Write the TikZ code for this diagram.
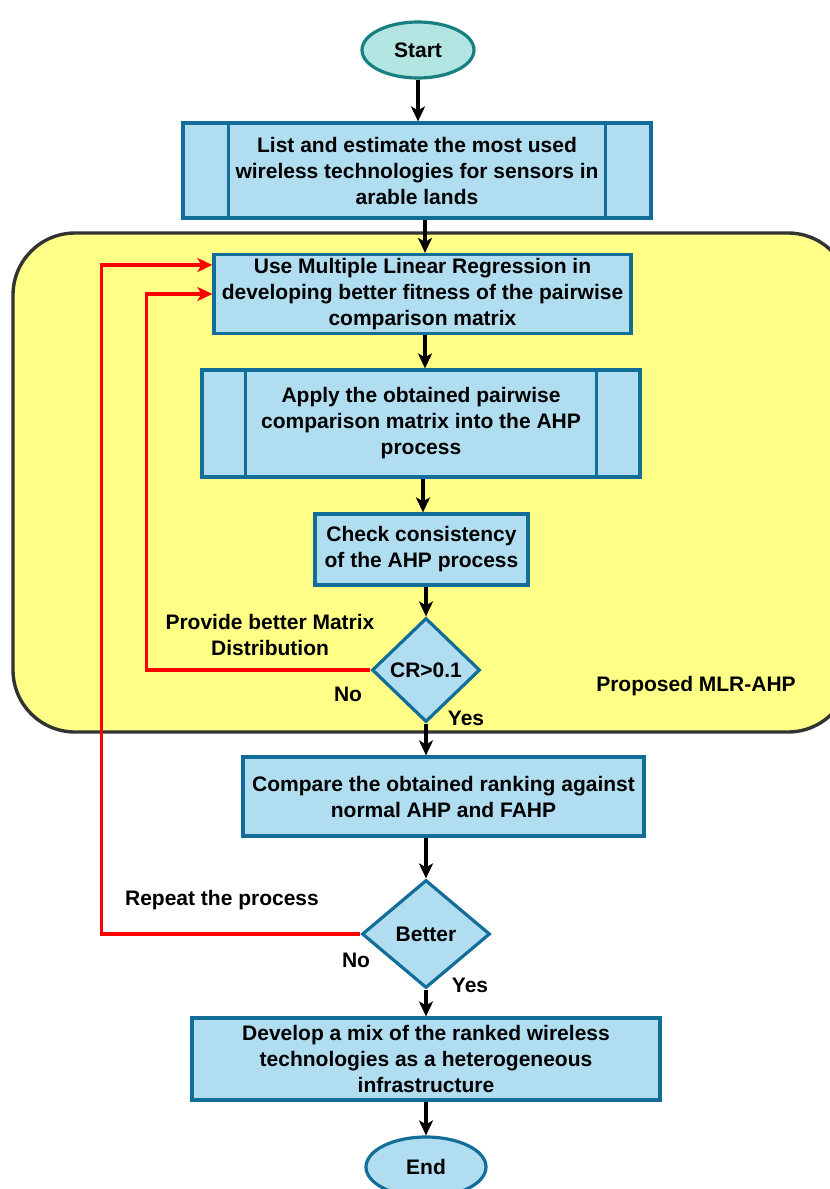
\documentclass[tikz,border=0pt]{standalone}
\usepackage{fontspec}
\setmainfont{Liberation Sans}
\usetikzlibrary{shapes.geometric,arrows.meta,calc}
\definecolor{boxfill}{RGB}{177,221,240}
\definecolor{boxline}{RGB}{18,110,152}
\definecolor{startfill}{RGB}{178,228,226}
\definecolor{startline}{RGB}{22,128,128}
\definecolor{regfill}{RGB}{255,255,136}
\definecolor{regline}{RGB}{51,51,51}
\definecolor{loopred}{RGB}{255,0,0}
\tikzset{
  txt/.style={font=\fontsize{21}{26}\selectfont\bfseries, align=center},
  procbox/.style={txt, draw=boxline, fill=boxfill, line width=3.2pt, inner sep=0pt},
  decide/.style={txt, diamond, draw=boxline, fill=boxfill, line width=3.2pt, inner sep=0pt},
  term/.style={txt, ellipse, line width=3.2pt, inner sep=0pt},
  flow/.style={line width=3.2pt, -{Stealth[length=15pt,width=14pt,inset=4pt]}},
  loop/.style={line width=3.4pt, draw=loopred, -{Stealth[length=15pt,width=14pt,inset=4pt]}},
  lbl/.style={txt}
}
\begin{document}
\begin{tikzpicture}[x=1pt,y=-1pt]
\clip (0,0) rectangle (830,1189);
\fill[white] (0,0) rectangle (830,1189);
% region
\draw[regline, fill=regfill, line width=3.4pt, rounded corners=62pt] (13,233) rectangle (850,732);
\node[lbl] (mlr) at (696,686) {Proposed MLR-AHP};
% nodes
\node[term, draw=startline, fill=startfill, minimum width=112pt, minimum height=56pt] (start) at (418,50) {Start};
\node[procbox, minimum width=468pt, minimum height=95pt] (b1) at (417,170.5) {List and estimate the most used\\wireless technologies for sensors in\\arable lands};
\draw[boxline, line width=3.2pt] ($(b1.north west)+(47,0)$) -- ($(b1.south west)+(47,0)$);
\draw[boxline, line width=3.2pt] ($(b1.north east)+(-47,0)$) -- ($(b1.south east)+(-47,0)$);
\node[procbox, minimum width=417pt, minimum height=79pt] (b2) at (422.5,294) {Use Multiple Linear Regression in\\developing better fitness of the pairwise\\comparison matrix};
\node[procbox, minimum width=438pt, minimum height=107pt] (b3) at (421,423.5) {Apply the obtained pairwise\\comparison matrix into the AHP\\process};
\draw[boxline, line width=3.2pt] ($(b3.north west)+(45,0)$) -- ($(b3.south west)+(45,0)$);
\draw[boxline, line width=3.2pt] ($(b3.north east)+(-45,0)$) -- ($(b3.south east)+(-45,0)$);
\node[procbox, minimum width=213pt, minimum height=71pt] (b4) at (421.5,549.5) {Check consistency\\of the AHP process};
\node[decide, minimum width=108pt, minimum height=104pt] (d1) at (426,670) {CR>0.1};
\node[procbox, minimum width=401pt, minimum height=79pt] (b5) at (443.5,796.5) {Compare the obtained ranking against\\normal AHP and FAHP};
\node[decide, minimum width=128pt, minimum height=108pt] (d2) at (426,934) {Better};
\node[procbox, minimum width=468pt, minimum height=82pt] (b6) at (426,1059) {Develop a mix of the ranked wireless\\technologies as a heterogeneous\\infrastructure};
\node[term, draw=boxline, fill=boxfill, minimum width=120pt, minimum height=60pt] (end) at (426,1167) {End};
% flow arrows
\draw[flow] (start) -- (b1.north -| start);
\draw[flow] (b1.south -| 425,0) -- (b2.north -| 425,0);
\draw[flow] (b2.south -| 425,0) -- (b3.north -| 425,0);
\draw[flow] (b3.south -| 423,0) -- (b4.north -| 423,0);
\draw[flow] (b4.south -| d1) -- (d1.north);
\draw[flow] (d1.south) -- (b5.north -| d1);
\draw[flow] (b5.south -| d2) -- (d2.north);
\draw[flow] (d2.south) -- (b6.north -| d2);
\draw[flow] (b6.south -| end) -- (end.north);
% loops
\coordinate (c1) at ($(d1.west)+(-224,0)$);
\draw[loop] (d1.west) -- (c1) |- (b2.west);
\coordinate (c2) at ($(d2.west)+(-259,0)$);
\coordinate (t2) at ($(b2.west)+(0,-29)$);
\draw[loop] (d2.west) -- (c2) |- (t2);
% labels
\node[lbl] (pb) at (270,635) {Provide better Matrix\\Distribution};
\node[lbl] (no1) at (348,694) {No};
\node[lbl] (yes1) at (466,718) {Yes};
\node[lbl] (rp) at (222,900) {Repeat the process};
\node[lbl] (no2) at (356,960) {No};
\node[lbl] (yes2) at (470,985) {Yes};
\end{tikzpicture}
\end{document}
